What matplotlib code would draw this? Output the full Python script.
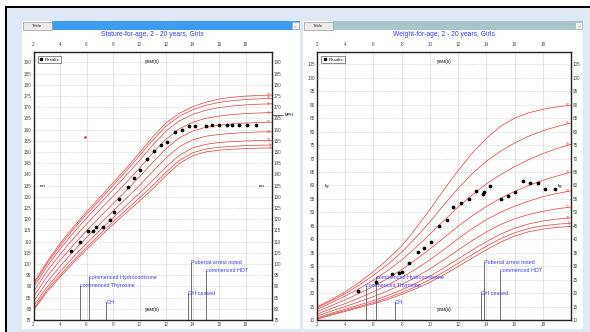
import matplotlib.pyplot as plt
from matplotlib.patches import Rectangle
from matplotlib.lines import Line2D

plt.rcParams['font.family'] = ['Liberation Sans', 'DejaVu Sans']

W, H = 590, 332  # output size in px

AGES = list(range(2, 21))
PCT_NAMES = ['97', '95', '90', '75', '50', '25', '10', '5', '3']

# stature-for-age, girls (cm), value at each whole year 2..20
st_p97 = [91.5, 100.8, 109.1, 116.4, 123.2, 129.7, 136.2, 142.7, 149.6, 156.7, 162.9, 167.2, 170.2, 172.2, 173.6, 174.4, 174.9, 175.2, 175.4]
st_p95 = [90.7, 100.0, 108.1, 115.4, 122.1, 128.6, 135.0, 141.5, 148.3, 155.3, 161.5, 165.9, 168.8, 170.8, 172.1, 172.9, 173.4, 173.7, 173.9]
st_p90 = [89.5, 98.7, 106.7, 113.8, 120.5, 126.9, 133.2, 139.6, 146.2, 153.1, 159.3, 163.8, 166.7, 168.6, 169.8, 170.5, 171.0, 171.3, 171.5]
st_p75 = [87.6, 96.6, 104.3, 111.3, 117.8, 124.1, 130.2, 136.4, 142.8, 149.5, 155.7, 160.3, 163.2, 165.0, 166.0, 166.7, 167.1, 167.4, 167.6]
st_p50 = [85.4, 94.2, 101.6, 108.4, 114.8, 120.9, 126.9, 132.8, 138.9, 145.3, 151.5, 156.3, 159.3, 161.0, 161.9, 162.5, 162.9, 163.1, 163.3]
st_p25 = [83.2, 91.8, 98.9, 105.6, 111.8, 117.8, 123.6, 129.3, 135.1, 141.2, 147.3, 152.3, 155.4, 157.0, 157.8, 158.3, 158.7, 158.9, 159.0]
st_p10 = [81.2, 89.6, 96.5, 103.1, 109.1, 115.0, 120.6, 126.1, 131.6, 137.3, 143.3, 148.5, 151.8, 153.4, 154.2, 154.6, 154.9, 155.1, 155.2]
st_p5 = [80.0, 88.3, 95.0, 101.5, 107.5, 113.2, 118.8, 124.2, 129.5, 135.0, 140.9, 146.2, 149.6, 151.3, 152.1, 152.5, 152.8, 153.0, 153.1]
st_p3 = [79.3, 87.4, 94.1, 100.5, 106.4, 112.1, 117.6, 122.9, 128.1, 133.5, 139.4, 144.8, 148.3, 150.0, 150.8, 151.2, 151.5, 151.7, 151.8]

# weight-for-age, girls (kg)
wt_p97 = [14.9, 17.5, 20.5, 24.0, 28.0, 32.5, 37.5, 44.0, 51.0, 58.5, 65.5, 72.0, 77.5, 82.0, 85.0, 87.0, 88.3, 89.2, 89.8]
wt_p95 = [14.5, 17.1, 19.8, 23.0, 26.6, 30.6, 35.2, 40.6, 46.5, 52.8, 58.9, 64.4, 69.0, 72.7, 75.8, 78.3, 80.3, 81.9, 83.2]
wt_p90 = [13.9, 16.4, 18.9, 21.7, 24.8, 28.3, 32.3, 36.9, 41.9, 47.0, 52.0, 56.5, 60.6, 64.0, 67.0, 69.6, 71.8, 73.7, 75.3]
wt_p75 = [13.1, 15.3, 17.5, 19.9, 22.5, 25.4, 28.7, 32.4, 36.4, 40.6, 44.8, 48.7, 52.2, 55.2, 57.8, 60.0, 61.9, 63.5, 65.0]
wt_p50 = [12.2, 14.2, 16.1, 18.2, 20.5, 23.0, 25.8, 28.9, 32.4, 36.2, 40.2, 44.0, 47.3, 50.0, 52.3, 54.2, 55.8, 57.0, 58.0]
wt_p25 = [11.5, 13.3, 15.0, 16.8, 18.7, 20.8, 23.2, 25.9, 29.0, 32.4, 36.0, 39.5, 42.7, 45.5, 47.6, 49.2, 50.4, 51.3, 52.0]
wt_p10 = [10.8, 12.5, 14.0, 15.6, 17.2, 19.1, 21.2, 23.6, 26.3, 29.4, 32.7, 36.0, 39.1, 41.9, 44.1, 45.7, 46.8, 47.5, 48.0]
wt_p5 = [10.4, 12.1, 13.5, 15.0, 16.5, 18.2, 20.2, 22.4, 25.0, 27.9, 31.1, 34.3, 37.4, 40.2, 42.4, 44.0, 45.0, 45.6, 46.0]
wt_p3 = [10.2, 11.8, 13.2, 14.6, 16.0, 17.6, 19.5, 21.6, 24.0, 26.8, 29.9, 33.0, 36.1, 38.9, 41.2, 42.8, 43.8, 44.4, 44.8]

# measurements
st_age = [4.86, 5.51, 6.11, 6.52, 6.75, 7.28, 7.75, 8.04, 8.47, 9.10, 9.55, 10.03, 10.60, 11.10,
          11.60, 12.10, 12.70, 13.20, 13.70, 14.20, 15.05, 15.50, 16.00, 16.60, 17.00, 17.50, 18.10, 18.80]
st_val = [105.9, 109.6, 114.5, 114.5, 116.6, 116.6, 119.8, 123.2, 129.1, 134.2, 138.5, 142.0, 147.0, 150.4,
          153.0, 154.4, 158.9, 159.6, 161.4, 161.4, 161.4, 161.9, 161.9, 161.9, 162.2, 162.2, 162.2, 162.2]
wt_age = [4.89, 6.19, 7.32, 7.79, 8.05, 8.54, 9.13, 9.58, 10.05, 10.64, 11.18, 11.67, 12.17, 12.76,
          13.25, 13.79, 13.81, 14.29, 15.07, 15.56, 16.05, 16.62, 17.06, 17.68, 18.14, 18.85]
wt_val = [20.9, 24.2, 27.1, 27.5, 28.0, 31.3, 35.4, 36.9, 39.1, 44.9, 47.1, 52.1, 53.4, 55.0,
          57.9, 56.8, 57.4, 59.9, 55.0, 56.0, 57.6, 61.6, 61.1, 61.1, 58.7, 58.7]

mph_value = 166.5
red_point = (5.86, 156.8)

event_names = ['commenced Thyroxine', 'commenced Hydrocortisone', 'GH', 'GH ceased',
               'Pubertal arrest noted', 'commenced HDT']
event_ages = [5.5, 6.2, 7.5, 13.65, 13.85, 15.0]

RED = '#e84a48'
BLUE = '#3b3bf5'
# height of each event marker, as fraction of the plot box
EVENT_H = [0.128, 0.159, 0.067, 0.10, 0.214, 0.184]


def px_rect(fig, x, y, w, h, **kw):
    r = Rectangle((x / W, 1 - (y + h) / H), w / W, h / H, transform=fig.transFigure,
                  zorder=-10, **kw)
    fig.add_artist(r)
    return r


def draw_frame(fig, x0, x1, bar_color):
    px_rect(fig, x0, 21, x1 - x0, 308, facecolor='white', edgecolor='none')
    px_rect(fig, x0 + 30, 21, x1 - x0 - 30, 9, facecolor=bar_color, edgecolor='none')
    px_rect(fig, x0 + 1, 22, 29, 7.5, facecolor='#ebebeb', edgecolor='#9a9a9a', lw=0.5)
    fig.text((x0 + 15.5) / W, 1 - 25.8 / H, 'Table', fontsize=3.2, ha='center', va='center', color='#333333')
    px_rect(fig, x1 - 8, 22, 7, 7, facecolor='#f2f2f2', edgecolor='#b0b0b0', lw=0.4)
    fig.text((x1 - 4.5) / W, 1 - 25.8 / H, '>', fontsize=3.2, ha='center', va='center', color='#c06020')


def make_axes(fig, x0, x1, ylim, ystep):
    ax = fig.add_axes([x0 / W, 1 - 320 / H, (x1 - x0) / W, 268 / H])
    ax.patch.set_alpha(0)
    ax.set_xlim(2, 20)
    ax.set_ylim(*ylim)
    ax.set_xticks(range(2, 19, 2))
    ax.set_yticks(range(int(ylim[0]), int(ylim[1]) + 1, ystep))
    ax.tick_params(length=0, labelsize=3.3, labelcolor='#444444', pad=1.5,
                   labelleft=True, labelright=True)
    ax.tick_params(axis='x', pad=1.5)
    top = ax.secondary_xaxis('top')
    top.set_xticks(range(2, 19, 2))
    top.tick_params(length=0, labelsize=3.3, labelcolor='#444444', pad=3.8)
    top.spines['top'].set_visible(False)
    for s in ax.spines.values():
        s.set_linewidth(1.0)
        s.set_color('#222222')
    ax.grid(axis='x', color='#d8d8d8', lw=0.5)
    ax.grid(axis='y', color='#bdbdbd', lw=0.45, ls=(0, (1, 1.5)))
    ax.set_axisbelow(True)
    ax.text(0.5, 0.963, 'year(s)', transform=ax.transAxes, fontsize=3.3, ha='center', va='center')
    ax.text(0.5, 0.041, 'year(s)', transform=ax.transAxes, fontsize=3.3, ha='center', va='center')
    handle = Line2D([], [], marker='s', color='black', ls='', ms=1.8)
    leg = ax.legend([handle], ['Results'], loc='upper left', bbox_to_anchor=(0.012, 0.99),
                    fontsize=3.2, frameon=True, fancybox=False, borderpad=0.35,
                    handletextpad=0.4, handlelength=0.8, borderaxespad=0.3)
    leg.get_frame().set_edgecolor('#333333')
    leg.get_frame().set_linewidth(0.5)
    return ax


def draw_panel(ax, curves, ages, vals, unit, unit_x):
    for name, curve in zip(PCT_NAMES, curves):
        ax.plot(AGES, curve, color=RED, lw=0.55)
        ax.text(19.92, curve[-1], name, color=RED, fontsize=2.6, ha='right', va='center')
    ax.plot(ages, vals, 'o', color='black', ms=1.7, zorder=5)
    ax.text(0.04, 0.5, unit, transform=ax.transAxes, fontsize=3.2, ha='center', va='center')
    ax.text(unit_x, 0.5, unit, transform=ax.transAxes, fontsize=3.2, ha='center', va='center')
    tr = ax.get_xaxis_transform()
    for name, age, h in zip(event_names, event_ages, EVENT_H):
        ax.plot([age, age], [0, h], transform=tr, color='#707070', lw=0.7)
        ax.text(age, h, name, transform=tr, color=BLUE, fontsize=3.9, ha='left', va='center')


def main():
    fig = plt.figure(figsize=(W / 100, H / 100), dpi=100)
    fig.patch.set_facecolor('white')
    px_rect(fig, 5, 6, 585, 326, facecolor='#dfe9f5', edgecolor='none')
    px_rect(fig, 5, 6, 585, 2, facecolor='black', edgecolor='none')
    px_rect(fig, 5, 6, 2, 326, facecolor='black', edgecolor='none')

    draw_frame(fig, 22, 300, '#3d9bf2')
    draw_frame(fig, 303, 583, '#a9c5cb')

    # stature
    ax1 = make_axes(fig, 33.5, 272, (75, 194.6), 5)
    draw_panel(ax1, [st_p97, st_p95, st_p90, st_p75, st_p50, st_p25, st_p10, st_p5, st_p3],
               st_age, st_val, 'cm', 0.955)
    ax1.plot([red_point[0]], [red_point[1]], 'o', color=RED, ms=1.0)
    ax1.plot([20, 20.85], [mph_value, mph_value], color='#333333', lw=0.5, clip_on=False)
    ax1.text(20.95, mph_value, 'MPH', fontsize=3.0, ha='left', va='center')
    fig.text((33.5 + 272) / 2 / W, 1 - 35 / H, 'Stature-for-age, 2 - 20 years, Girls',
             fontsize=4.9, color=BLUE, ha='center', va='center')

    # weight
    ax2 = make_axes(fig, 317, 571, (10, 109.6), 5)
    draw_panel(ax2, [wt_p97, wt_p95, wt_p90, wt_p75, wt_p50, wt_p25, wt_p10, wt_p5, wt_p3],
               wt_age, wt_val, 'kg', 0.957)
    fig.text((317 + 571) / 2 / W, 1 - 35 / H, 'Weight-for-age, 2 - 20 years, Girls',
             fontsize=4.9, color=BLUE, ha='center', va='center')

    fig.savefig('out.png', dpi=100)


if __name__ == "__main__":
    main()
